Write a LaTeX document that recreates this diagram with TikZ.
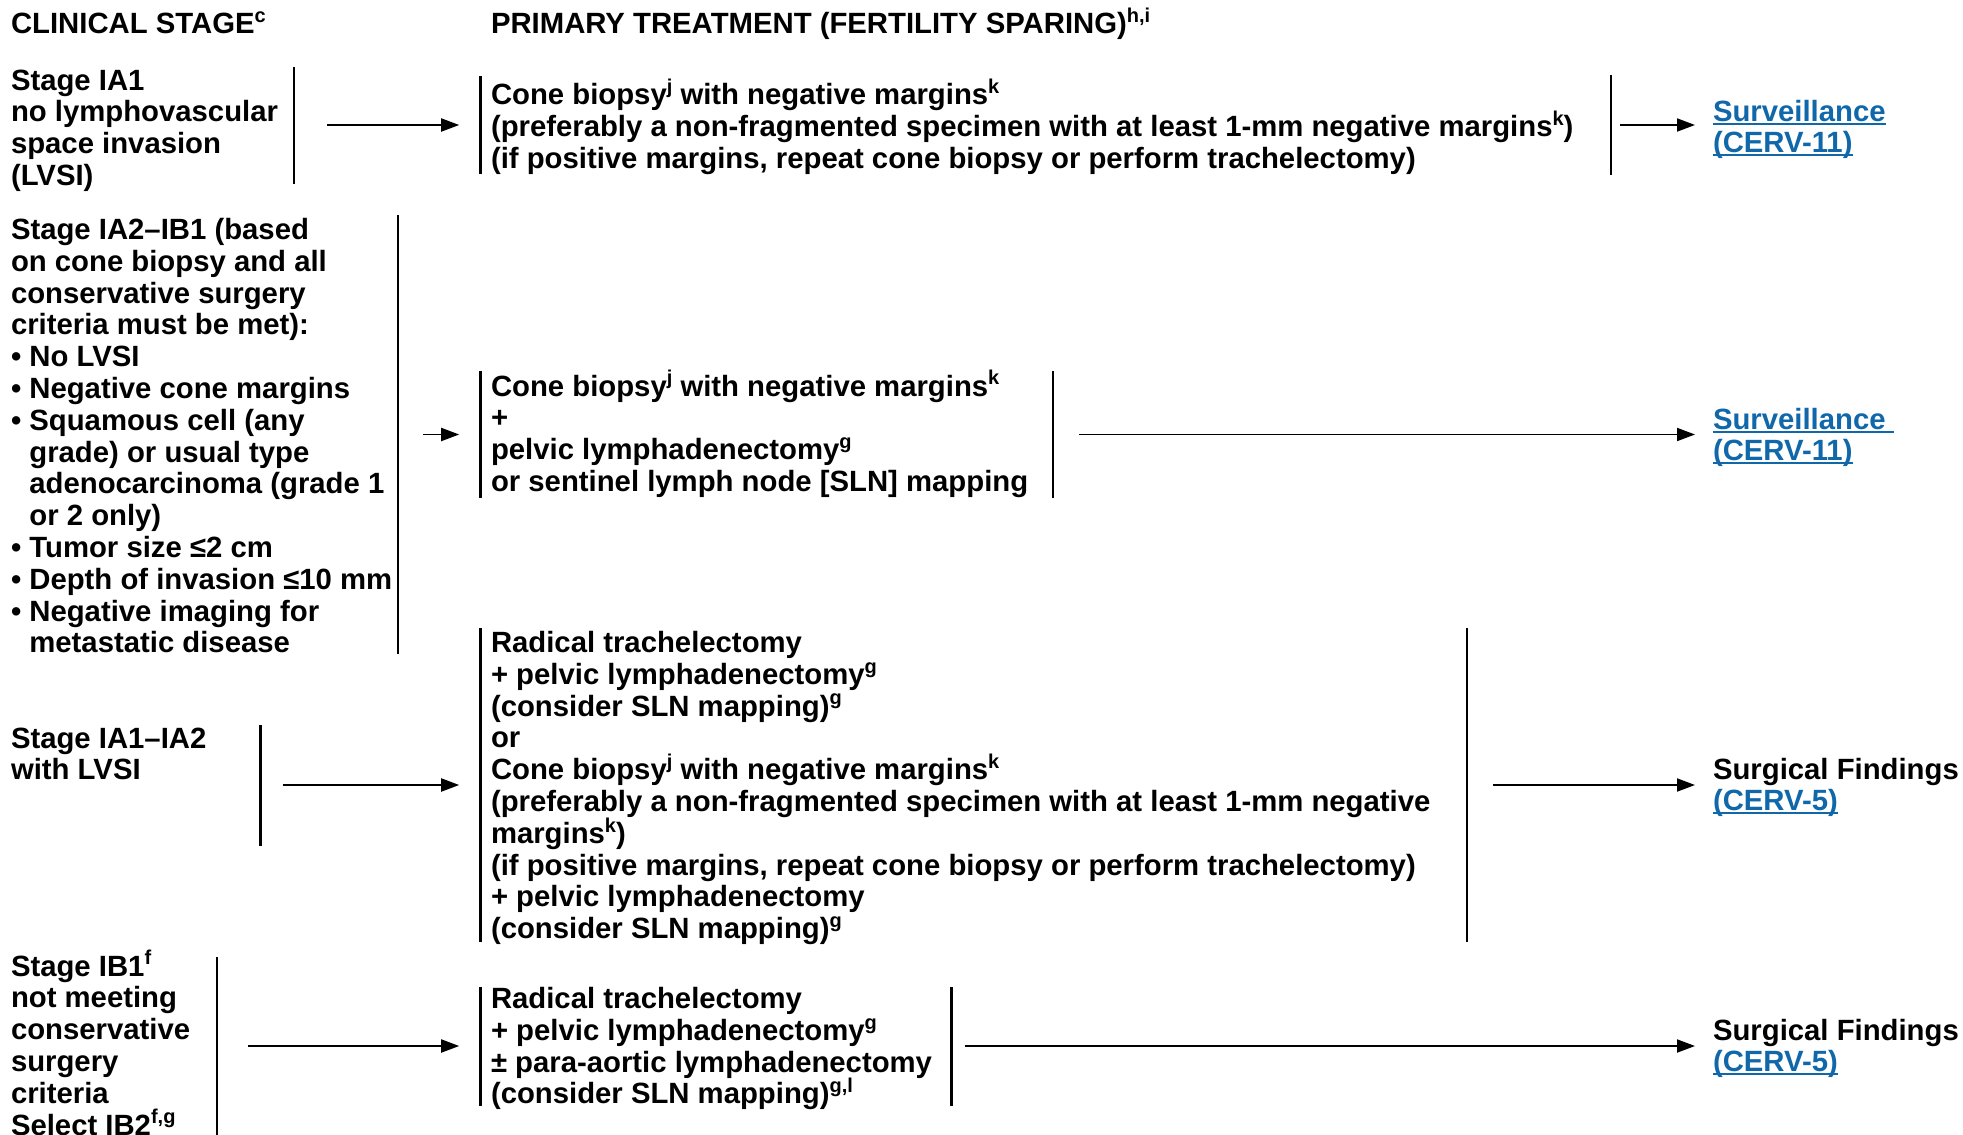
\documentclass[tikz,border=0pt]{standalone}
\usepackage{fontspec}
\setmainfont{Liberation Sans}
\usetikzlibrary{arrows.meta,calc}
\definecolor{lnkblue}{RGB}{16,104,170}
\newcommand\sups[1]{\smash{\raisebox{0.38em}{\fontsize{20}{20}\selectfont #1}}}
\newcommand\ulk[1]{{\color{lnkblue}\setbox0\hbox{#1}\rlap{\rule[-3.2pt]{\wd0}{1.6pt}}\box0}}
\newcommand\blk[1]{\begin{tabular}[t]{@{}l@{}}#1\end{tabular}}
\newcommand\bul{•\ }
\newcommand\ind{\phantom{•\ }}
\begin{document}
\begin{tikzpicture}[x=1pt,y=-1pt,
  txt/.style={anchor=base west, inner sep=0pt, outer sep=0pt, font=\fontsize{29.3}{31.8}\selectfont\bfseries},
  lnktxt/.style={anchor=base west, inner sep=0pt, outer sep=0pt, font=\fontsize{29.3}{31}\selectfont\bfseries},
  vbar/.style={fill=black, draw=none, inner sep=0pt, outer sep=0pt, minimum width=2.6pt},
  arr/.style={line width=1.9pt, -{Triangle[length=18pt,width=13pt]}}]
\useasboundingbox (0,0) rectangle (1963,1135);

% headers
\node[txt] (hA) at (11,33.5) {CLINICAL STAGE\sups{c}};
\node[txt] (hB) at (491,33.5) {PRIMARY TREATMENT (FERTILITY SPARING)\sups{h,i}};

% row 1
\node[txt] (s1) at (11,90) {\blk{Stage IA1\\no lymphovascular\\space invasion\\(LVSI)}};
\node[vbar, minimum height=117pt] (b1a) at (294,125) {};
\node[vbar, minimum height=98pt] (b1b) at (480.5,125) {};
\node[txt] (t1) at (491,104.5) {\blk{Cone biopsy\sups{j} with negative margins\sups{k}\\(preferably a non-fragmented specimen with at least 1-mm negative margins\sups{k})\\(if positive margins, repeat cone biopsy or perform trachelectomy)}};
\node[vbar, minimum height=100pt] (b1c) at (1611,125) {};
\node[lnktxt] (o1) at (1713,121.5) {\blk{\ulk{Surveillance}\\\ulk{(CERV-11)}}};
\draw[arr] ([xshift=32pt]b1a.east) -- ([xshift=-20pt]b1b.west);
\draw[arr] ([xshift=8pt]b1c.east) -- ($(o1.west |- b1c.east)+(-18,0)$);

% row 2
\node[txt] (s2) at (11,239.5) {\blk{Stage IA2–IB1 (based\\on cone biopsy and all\\conservative surgery\\criteria must be met):\\\bul No LVSI\\\bul Negative cone margins\\\bul Squamous cell (any\\\ind grade) or usual type\\\ind adenocarcinoma (grade 1\\\ind or 2 only)\\\bul Tumor size ≤2 cm\\\bul Depth of invasion ≤10 mm\\\bul Negative imaging for\\\ind metastatic disease}};
\node[vbar, minimum height=439pt] (b2a) at (398,434.5) {};
\node[vbar, minimum height=127pt] (b2b) at (480.5,434.5) {};
\node[txt] (t2) at (491,396) {\blk{Cone biopsy\sups{j} with negative margins\sups{k}\\+\\pelvic lymphadenectomy\sups{g}\\or sentinel lymph node [SLN] mapping}};
\node[vbar, minimum height=127pt] (b2c) at (1053,434.5) {};
\node[lnktxt] (o2) at (1713,429.5) {\blk{\ulk{Surveillance\ }\\\ulk{(CERV-11)}}};
\draw[arr] ([xshift=24pt]b2a.east) -- ([xshift=-20pt]b2b.west);
\draw[arr] ([xshift=25pt]b2c.east) -- ($(o2.west |- b2c.east)+(-18,0)$);

% row 3
\node[txt] (s3) at (11,748) {\blk{Stage IA1–IA2\\with LVSI}};
\node[vbar, minimum height=121pt] (b3a) at (260.5,785) {};
\node[vbar, minimum height=314pt] (b3b) at (480.5,785) {};
\node[txt] (t3) at (491,652.5) {\blk{Radical trachelectomy\\+ pelvic lymphadenectomy\sups{g}\\(consider SLN mapping)\sups{g}\\or\\Cone biopsy\sups{j} with negative margins\sups{k}\\(preferably a non-fragmented specimen with at least 1-mm negative\\margins\sups{k})\\(if positive margins, repeat cone biopsy or perform trachelectomy)\\+ pelvic lymphadenectomy\\(consider SLN mapping)\sups{g}}};
\node[vbar, minimum height=314pt] (b3c) at (1467,785) {};
\node[lnktxt] (o3) at (1713,779.5) {\blk{Surgical Findings\\\ulk{(CERV-5)}}};
\draw[arr] ([xshift=21pt]b3a.east) -- ([xshift=-20pt]b3b.west);
\draw[arr] ([xshift=25pt]b3c.east) -- ($(o3.west |- b3c.east)+(-18,0)$);

% row 4
\node[txt] (s4) at (11,976) {\blk{Stage IB1\sups{f}\\not meeting\\conservative\\surgery\\criteria\\Select IB2\sups{f,g}}};
\node[vbar, minimum height=178pt] (b4a) at (217,1046) {};
\node[vbar, minimum height=119pt] (b4b) at (480.5,1046) {};
\node[txt] (t4) at (491,1008.5) {\blk{Radical trachelectomy\\+ pelvic lymphadenectomy\sups{g}\\± para-aortic lymphadenectomy\\(consider SLN mapping)\sups{g,l}}};
\node[vbar, minimum height=119pt] (b4c) at (951.4,1046) {};
\node[lnktxt] (o4) at (1713,1040.5) {\blk{Surgical Findings\\\ulk{(CERV-5)}}};
\draw[arr] ([xshift=30pt]b4a.east) -- ([xshift=-20pt]b4b.west);
\draw[arr] ([xshift=12pt]b4c.east) -- ($(o4.west |- b4c.east)+(-18,0)$);
\end{tikzpicture}
\end{document}
